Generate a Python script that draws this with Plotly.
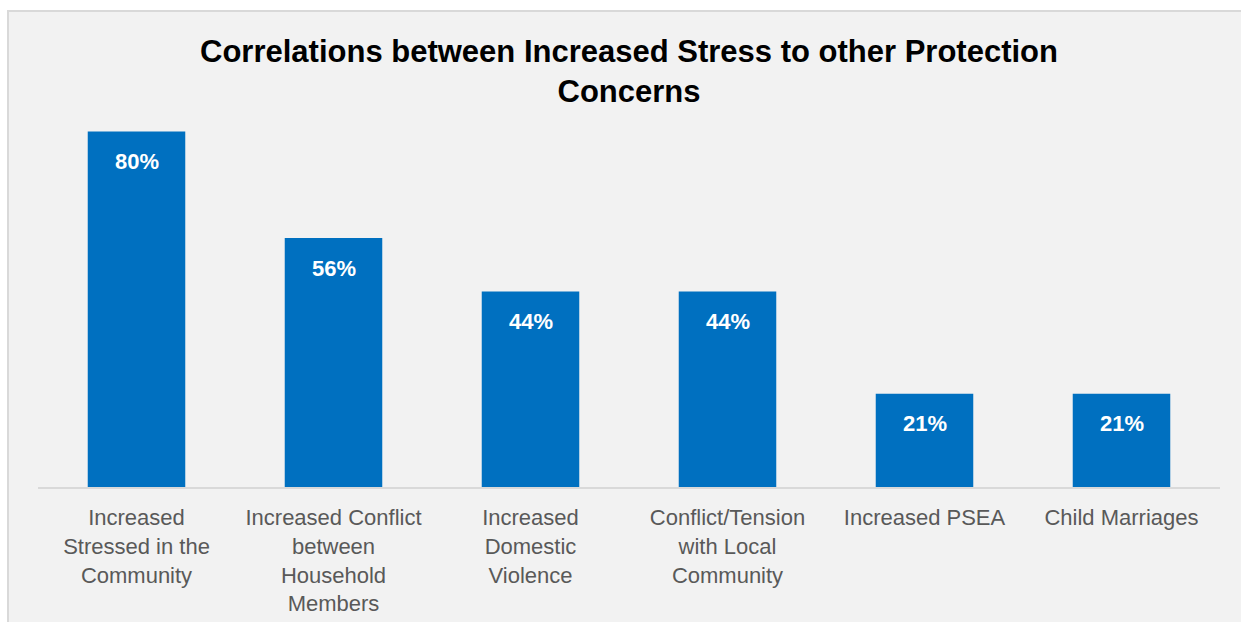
import plotly.graph_objects as go

# Protection concerns and share of respondents linking them to increased stress
categories = [
    "Increased<br>Stressed in the<br>Community",
    "Increased Conflict<br>between<br>Household<br>Members",
    "Increased<br>Domestic<br>Violence",
    "Conflict/Tension<br>with Local<br>Community",
    "Increased PSEA",
    "Child Marriages",
]
values = [80, 56, 44, 44, 21, 21]

W, H = 1241, 622
ML, MR, MT, MB = 38, 21, 87, 135
PW = W - ML - MR
PH = H - MT - MB

BAR = "#0070C0"
FONT = "Arial, 'Liberation Sans', sans-serif"

fig = go.Figure(
    go.Bar(
        x=categories,
        y=values,
        marker=dict(color=BAR, line=dict(width=0)),
        hoverinfo="skip",
    )
)

# value labels sitting inside the top of each bar
for c, v in zip(categories, values):
    fig.add_annotation(
        x=c, y=v, text=f"<b>{v}%</b>", showarrow=False,
        yanchor="middle", yshift=-30,
        font=dict(family=FONT, size=22, color="white"),
    )

# chart frame: light grey panel with a thin border, offset from the page edge
def px_x(p):
    return (p - ML) / PW

def px_y(p):
    return (H - MB - p) / PH

fig.add_shape(
    type="rect", xref="paper", yref="paper", layer="below",
    x0=px_x(8), x1=px_x(W + 30), y0=px_y(H + 30), y1=px_y(11),
    fillcolor="#F2F2F2", line=dict(color="#D9D9D9", width=2),
)

fig.update_layout(
    width=W, height=H,
    margin=dict(l=ML, r=MR, t=MT, b=MB, pad=0, autoexpand=False),
    paper_bgcolor="white",
    plot_bgcolor="rgba(0,0,0,0)",
    bargap=0.505,
    showlegend=False,
    title=dict(
        text="<b>Correlations between Increased Stress to other Protection<br>Concerns</b>",
        x=0.5, xanchor="center", xref="paper",
        y=1 - 62 / H, yanchor="top", yref="container",
        automargin=False,
        font=dict(family=FONT, size=31, color="black"),
    ),
    xaxis=dict(
        showline=True, linecolor="#D9D9D9", linewidth=2,
        ticks="", showgrid=False, tickangle=0, automargin=False,
        tickfont=dict(family=FONT, size=22, color="#595959"),
        ticklabelstandoff=10,
    ),
    yaxis=dict(
        range=[0, 90], visible=False, showgrid=False, zeroline=False,
        automargin=False,
    ),
)

fig.write_html("out.html")
